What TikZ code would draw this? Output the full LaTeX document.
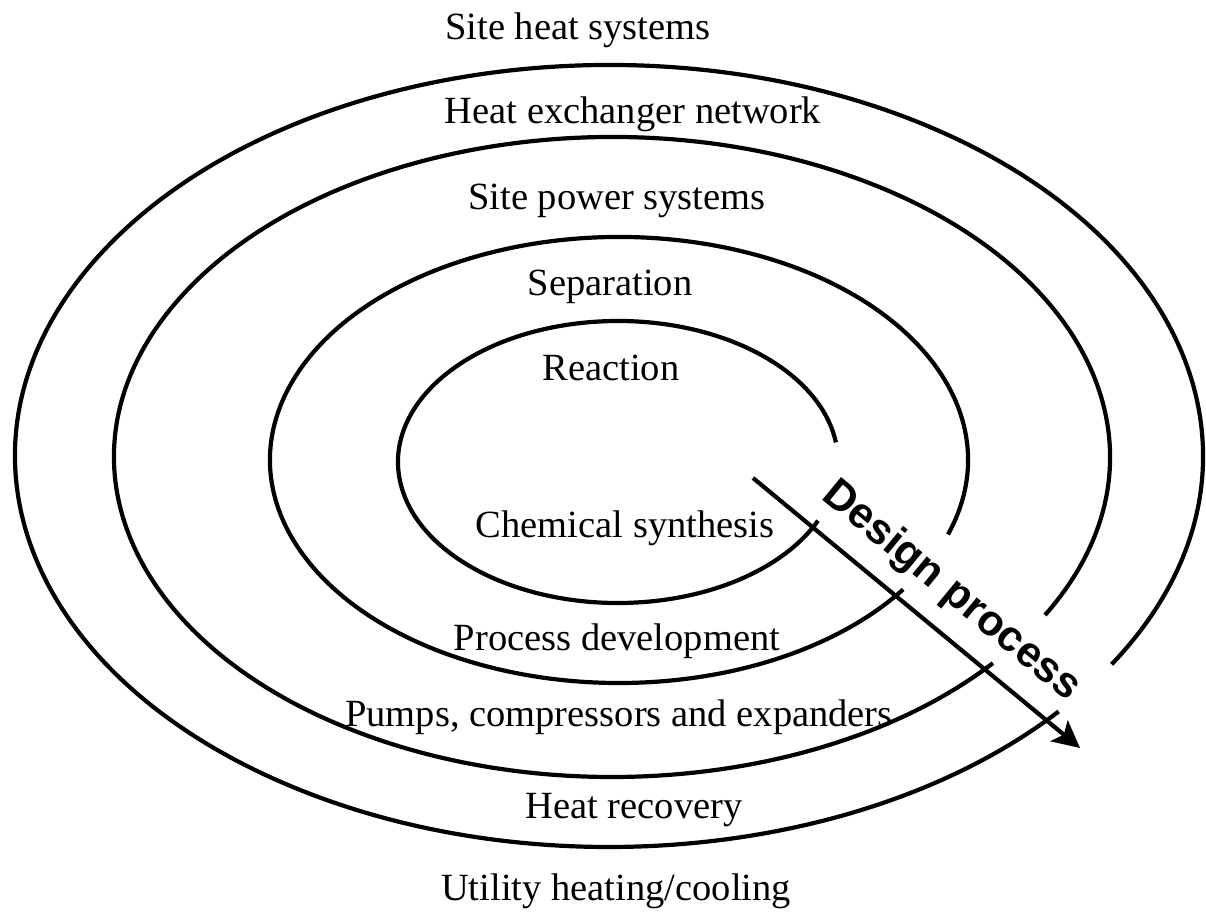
\documentclass[tikz,border=0pt]{standalone}
\usepackage{fontspec}
\setmainfont{Liberation Serif}
\newfontfamily\arialfont{Liberation Sans}
\usetikzlibrary{arrows.meta}
\tikzset{
  ring/.style={line width=4.2pt, line cap=butt},
  lbl/.style={anchor=base, inner sep=0pt, font=\fontsize{38.5}{46}\selectfont},
  flow/.style={line width=4.2pt, -{Stealth[length=27pt,width=27pt,inset=6pt]}},
  flowlbl/.style={anchor=base, inner sep=0pt, font=\arialfont\bfseries\fontsize{43}{50}\selectfont}
}
\begin{document}
\begin{tikzpicture}[x=1pt,y=1pt]
\useasboundingbox (0,0) rectangle (1206,916);
% centres of the rings
\coordinate (c1) at (618,454);
\coordinate (c2) at (619,456);
\coordinate (c3) at (612,459);
\coordinate (c4) at (609,460);
% rings (open near the arrow)
\draw[ring] ([shift={(8:220pt and 141pt)}]c1) arc[start angle=8, end angle=335.4, x radius=220pt, y radius=141pt];
\draw[ring] ([shift={(-19.5:349pt and 223pt)}]c2) arc[start angle=-19.5, end angle=324.5, x radius=349pt, y radius=223pt];
\draw[ring] ([shift={(-29.6:498pt and 320pt)}]c3) arc[start angle=-29.6, end angle=319.9, x radius=498pt, y radius=320pt];
\draw[ring] ([shift={(-32.2:594pt and 391pt)}]c4) arc[start angle=-32.2, end angle=319.2, x radius=594pt, y radius=391pt];
% labels
\node[lbl] (l1) at (578,876) {Site heat systems};
\node[lbl] (l2) at (633,792) {Heat exchanger network};
\node[lbl] (l3) at (617,706) {Site power systems};
\node[lbl] (l4) at (610,620) {Separation};
\node[lbl] (l5) at (611,535) {Reaction};
\node[lbl] (l6) at (625,378) {Chemical synthesis};
\node[lbl] (l7) at (617,266) {Process development};
\node[lbl] (l8) at (619,190) {Pumps, compressors and expanders};
\node[lbl] (l9) at (634,98) {Heat recovery};
\node[lbl] (l10) at (616,16) {Utility heating/cooling};
% design process arrow
\coordinate (ds) at (753,438);
\coordinate (de) at (1080,168);
\draw[flow] (ds) -- (de);
\node[flowlbl, rotate=-39.5] (dp) at (944,316) {Design process};
\end{tikzpicture}
\end{document}
